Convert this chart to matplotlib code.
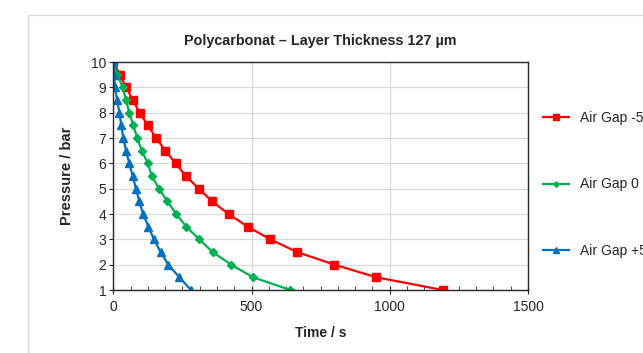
import matplotlib
matplotlib.use("Agg")
import matplotlib.pyplot as plt
from matplotlib.patches import Rectangle
from matplotlib.ticker import MultipleLocator

plt.rcParams["font.family"] = ["Liberation Sans", "DejaVu Sans"]

pressure = [10, 9.5, 9, 8.5, 8, 7.5, 7, 6.5, 6, 5.5, 5, 4.5, 4, 3.5, 3, 2.5, 2, 1.5, 1]
t_minus = [0, 24, 46, 71, 95, 125, 155, 188, 226, 262, 310, 357, 417, 486, 568, 664, 800, 952, 1192]
t_zero = [0, 14, 34, 46, 58, 72, 87, 103, 125, 139, 166, 195, 228, 264, 311, 359, 426, 506, 640]
t_plus = [0, 3, 6, 14, 22, 29, 36, 46, 58, 70, 82, 94, 108, 127, 147, 171, 199, 239, 281]
labels = ["Air Gap -50 \u00b5m", "Air Gap 0 \u00b5m", "Air Gap +50 \u00b5m"]

RED, GREEN, BLUE = "#ff0000", "#00b050", "#0070c0"
INK = "#262626"

fig = plt.figure(figsize=(6.43, 3.53), dpi=100)
# light outer chart border (clipped at right and bottom like the source)
fig.patches.append(Rectangle((28 / 643, -0.2), 1.0, 1.2 - 15 / 353, transform=fig.transFigure,
                             fill=False, ec="#d9d9d9", lw=1.0))

ax = fig.add_axes([113.3 / 643, 1 - 290 / 353, (528 - 113.3) / 643, (290 - 62) / 353])
ax.plot(t_minus, pressure, color=RED, lw=1.6, marker="s", ms=5.5, label=labels[0])
ax.plot(t_zero, pressure, color=GREEN, lw=1.6, marker="D", ms=4, label=labels[1])
ax.plot(t_plus, pressure, color=BLUE, lw=1.6, marker="^", ms=5.5, label=labels[2])

ax.set_xlim(0, 1500)
ax.set_ylim(1, 10)
ax.xaxis.set_major_locator(MultipleLocator(500))
ax.xaxis.set_minor_locator(MultipleLocator(62.5))
ax.yaxis.set_major_locator(MultipleLocator(1))
ax.grid(True, which="major", color="#d9d9d9", lw=0.9)
ax.set_axisbelow(True)
for sp in ax.spines.values():
    sp.set_color(INK)
    sp.set_linewidth(1.0)
ax.tick_params(axis="x", which="major", direction="inout", length=6, color=INK,
               labelsize=10, labelcolor=INK, pad=4)
ax.tick_params(axis="x", which="minor", direction="in", length=3, color=INK)
ax.tick_params(axis="y", which="major", direction="out", length=3, color=INK,
               labelsize=10, labelcolor=INK, pad=2)

ax.set_xlabel("Time / s", fontsize=10, fontweight="bold", color=INK, labelpad=9)
ax.set_ylabel("Pressure / bar", fontsize=10.5, fontweight="bold", color=INK, labelpad=12)
ax.set_title("Polycarbonat \u2013 Layer Thickness 127 \u00b5m", fontsize=10.4, fontweight="bold",
             color=INK, pad=12)

leg = fig.legend(loc="center left", bbox_to_anchor=(530 / 643, 1 - 184.5 / 353), frameon=False,
                 fontsize=10, handlelength=1.9, handletextpad=0.8, labelspacing=3.8,
                 markerscale=0.7, labelcolor=INK)

fig.savefig("out.png", dpi=100, facecolor="white")
